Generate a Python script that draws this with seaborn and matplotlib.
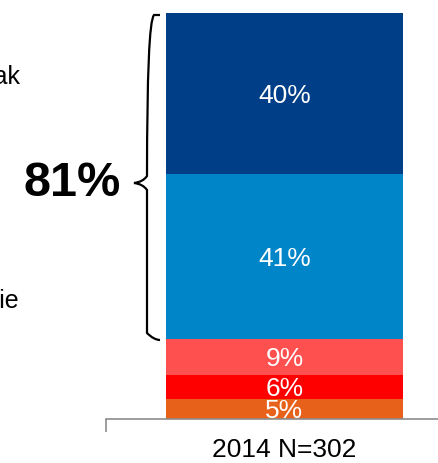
import numpy as np
import pandas as pd
import matplotlib
matplotlib.use("Agg")
import matplotlib.pyplot as plt
import seaborn as sns
from matplotlib.path import Path
from matplotlib.patches import PathPatch

categories = ["2014 N=302"]
segment_names = ["Zdecydowanie tak", "W pewnym zakresie", "Raczej nie", "Zdecydowanie nie", "Trudno powiedzieć"]
segment_values = [40, 41, 9, 6, 5]          # top to bottom
segment_colors = ["#003F87", "#0086C8", "#FF5050", "#FF0000", "#E8611A"]
segment_labels = ["40%", "41%", "9%", "6%", "5%"]
bracket_label = "81%"

sns.set_theme(style="white")
plt.rcParams["font.family"] = ["Liberation Sans", "DejaVu Sans"]

W, H = 438, 463
fig = plt.figure(figsize=(W / 100, H / 100), dpi=100)
ax_left, ax_right = 106, 463
ax_bottom_px, ax_top_px = 419, 13
ax = fig.add_axes([ax_left / W, (H - ax_bottom_px) / H,
                   (ax_right - ax_left) / W, (ax_bottom_px - ax_top_px) / H])

vals_bottom_up = segment_values[::-1]
cols_bottom_up = segment_colors[::-1]
cum = np.cumsum(vals_bottom_up)
total = cum[-1]

for i in range(len(cum) - 1, -1, -1):
    df = pd.DataFrame({"cat": categories, "val": [cum[i]]})
    sns.barplot(data=df, x="cat", y="val", color=cols_bottom_up[i],
                saturation=1, width=0.664, ax=ax, linewidth=0)

bottoms = np.concatenate([[0], cum[:-1]])
labels_bottom_up = segment_labels[::-1]
for b, v, lab in zip(bottoms, vals_bottom_up, labels_bottom_up):
    ax.text(0, b + v / 2, lab, ha="center", va="center_baseline", color="white", fontsize=19)

ax.set_xlim(-0.5, 0.5)
ax.set_ylim(0, total)
ax.set_xlabel("")
ax.set_ylabel("")
ax.set_yticks([])
ax.set_xticks([0])
ax.set_xticklabels(categories, fontsize=19, color="black")
ax.tick_params(axis="x", which="major", length=0, pad=14)
ax.set_xticks([-0.5, 0.5], minor=True)
ax.tick_params(axis="x", which="minor", bottom=True, length=9, width=1.2,
               color="#8C8C8C", direction="out")
for s in ["top", "right", "left"]:
    ax.spines[s].set_visible(False)
ax.spines["bottom"].set_color("#8C8C8C")
ax.spines["bottom"].set_linewidth(1.2)

def px(x, y):
    return (x / W, (H - y) / H)

top_y, bot_y, mid_y = 15, 340, 183
xv, xr, xl = 147, 160, 134
r = 7
brace_pts = [
    (xr, top_y), (xv + r, top_y), (xv, top_y + r),
    (xv, mid_y - r), (xv - 4, mid_y - 1), (xl, mid_y),
    (xv - 4, mid_y + 1), (xv, mid_y + r),
    (xv, bot_y - r), (xv + r, bot_y), (xr, bot_y),
]
verts = [px(*p) for p in brace_pts]
codes = [Path.MOVETO, Path.LINETO, Path.CURVE3, Path.CURVE3,
         Path.CURVE3, Path.CURVE3, Path.CURVE3, Path.CURVE3,
         Path.LINETO, Path.CURVE3, Path.CURVE3]
fig.add_artist(PathPatch(Path(verts, codes), transform=fig.transFigure,
                         fill=False, edgecolor="black", linewidth=1.6))

fig.text(*px(72, 183), bracket_label, ha="center", va="center",
         fontsize=35, fontweight="bold", color="black")

fig.text(*px(20, 77), segment_names[0], ha="right", va="center", fontsize=18, color="black")
fig.text(*px(19, 301), segment_names[1], ha="right", va="center", fontsize=18, color="black")

fig.savefig("out.png", dpi=100)
